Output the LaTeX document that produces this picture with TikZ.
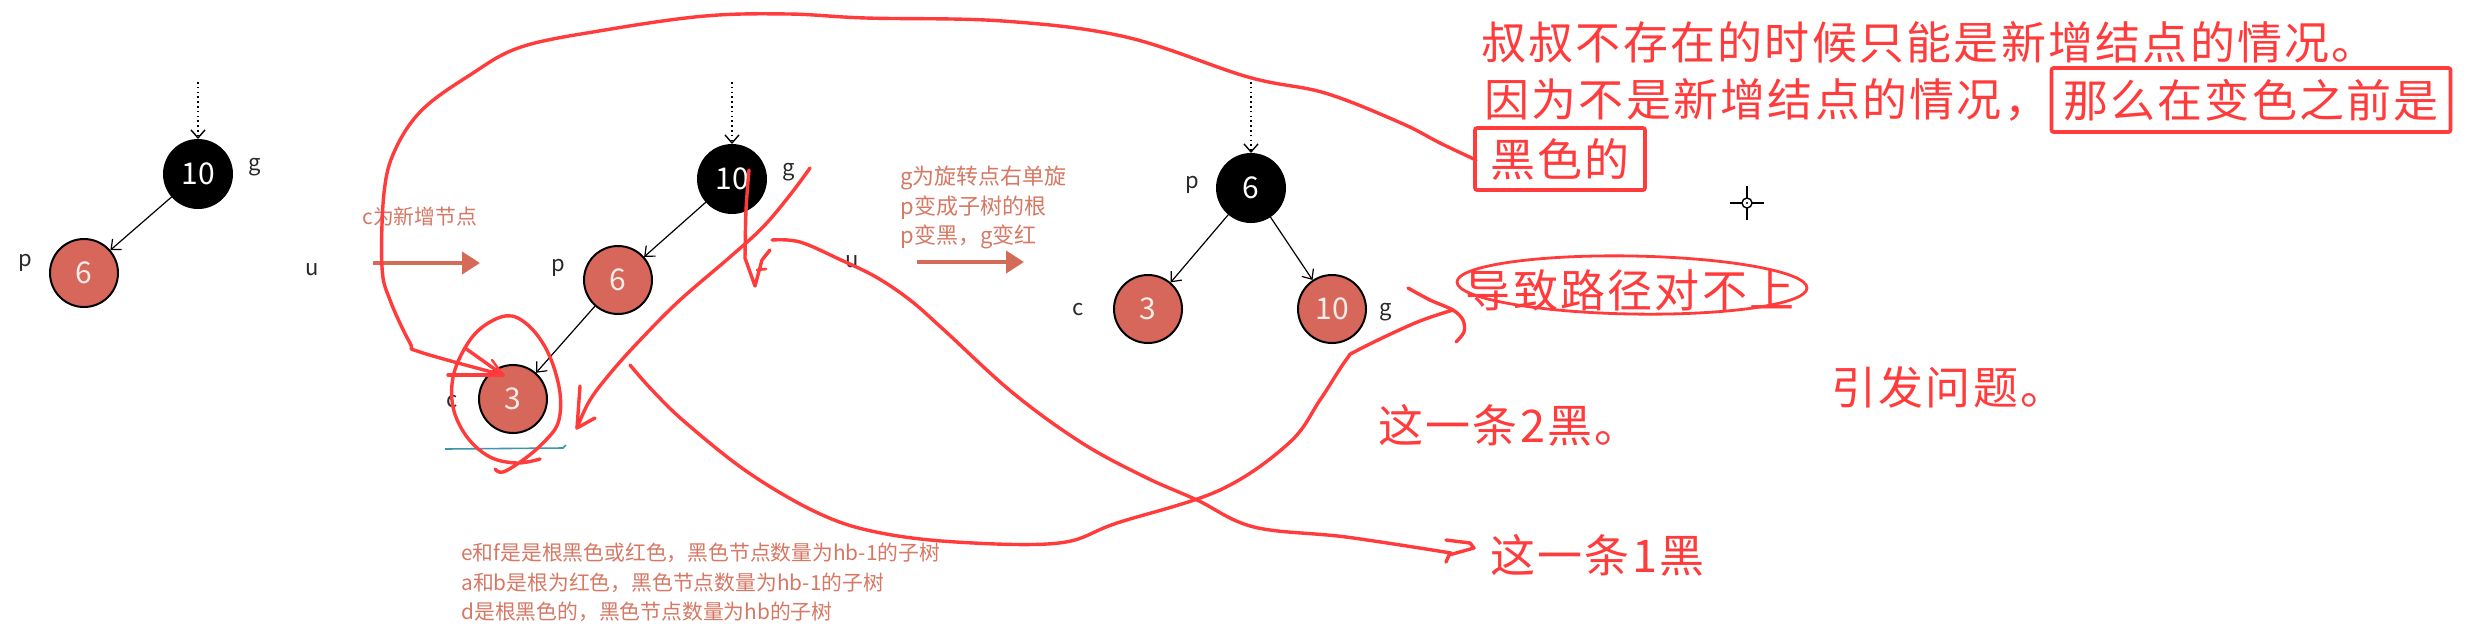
\documentclass[tikz,border=0pt]{standalone}
\usepackage{fontspec}
\setmainfont{Noto Sans CJK SC}
\newfontfamily\redfont[LetterSpace=5]{Noto Sans CJK SC}
\usetikzlibrary{arrows.meta}
\definecolor{handred}{RGB}{255,59,59}
\definecolor{salmon}{RGB}{214,120,100}
\definecolor{nodered}{RGB}{214,103,90}
\definecolor{salarrow}{RGB}{212,106,88}
\definecolor{teal1}{RGB}{62,149,174}
\definecolor{lbl}{RGB}{40,40,40}
\definecolor{nodetxt}{RGB}{250,236,230}
\begin{document}
\begin{tikzpicture}[x=0.5pt,y=-0.5pt,
 blk/.style={circle, fill=black, draw=black, line width=1pt, minimum size=34pt, inner sep=0pt, text=white, font=\fontsize{15}{15}\selectfont},
 rd/.style={circle, fill=nodered, draw=black, line width=1pt, minimum size=34pt, inner sep=0pt, text=nodetxt, font=\fontsize{15}{15}\selectfont},
 lab/.style={text=lbl, font=\fontsize{11}{11}\selectfont, inner sep=0pt},
 treeedge/.style={line width=0.6pt, -{Straight Barb[length=4pt,width=7pt]}},
 dotarr/.style={line width=0.7pt, dash pattern=on 0.8pt off 1.6pt, -{Straight Barb[length=4pt,width=7pt]}},
 salarr/.style={salarrow, line width=2pt, -{Triangle[length=9pt,width=11pt]}},
 saltxt/.style={text=salmon, font=\fontsize{11}{11}\selectfont, inner sep=0pt, anchor=west},
 handline/.style={handred, line width=1.7pt, line cap=round, line join=round},
 redtxt/.style={text=handred, font=\redfont\fontsize{22.5}{22.5}\selectfont, inner sep=0pt},
]
\fill[white] (0,0) rectangle (2468,639);
\useasboundingbox (0,0) rectangle (2468,639);

% ---------- tree 1 ----------
\node[blk] (g1) at (198,174) {10};
\node[rd] (p1) at (84,273) {6};
\coordinate (t1) at (198,82);
\draw[dotarr] (t1) -- (g1);
\draw[treeedge] (g1) -- (p1);
\node[lab] (lg1) at (255,167) {g};
\node[lab] (lp1) at (25,263) {p};
\node[lab] (lu1) at (312,270) {u};

% arrow 1
\node[saltxt, font=\fontsize{10.4}{10.4}\selectfont] (txtc) at (362,217) {c为新增节点};
\coordinate (a1s) at (373,263);
\coordinate (a1e) at (480,263);
\draw[salarr] (a1s) -- (a1e);

% ---------- tree 2 ----------
\node[blk] (g2) at (732,179) {10};
\node[rd] (p2) at (618,280) {6};
\node[rd] (c2) at (513,399) {3};
\coordinate (t2) at (732,82);
\draw[dotarr] (t2) -- (g2);
\draw[treeedge] (g2) -- (p2);
\draw[treeedge] (p2) -- (c2);
\node[lab] (lg2) at (789,172) {g};
\node[lab] (lp2) at (558,268) {p};
\node[lab] (lc2) at (452,402) {c};
\node[lab] (lu2) at (852,262) {u};
\coordinate (bl1) at (445,449);
\coordinate (bl2) at (563,448);
\draw[teal1, line width=0.8pt] (bl1) -- (bl2) -- ++(3,-3);

% arrow 2
\node[saltxt] (rot1) at (900,178) {g为旋转点右单旋};
\node[saltxt] (rot2) at (900,208) {p变成子树的根};
\node[saltxt] (rot3) at (900,237) {p变黑，g变红};
\coordinate (a2s) at (917,262);
\coordinate (a2e) at (1024,262);
\draw[salarr] (a2s) -- (a2e);

% ---------- tree 3 ----------
\node[blk] (p3) at (1251,188) {6};
\node[rd] (c3) at (1148,309) {3};
\node[rd] (g3) at (1332,309) {10};
\coordinate (t3) at (1251,82);
\draw[dotarr] (t3) -- (p3);
\draw[treeedge] (p3) -- (c3);
\draw[treeedge] (p3) -- (g3);
\node[lab] (lp3) at (1192,185) {p};
\node[lab] (lc3) at (1078,310) {c};
\node[lab] (lg3) at (1386,312) {g};

% ---------- bottom notes ----------
\node[saltxt, font=\fontsize{10.4}{10.4}\selectfont] (n1) at (461,553) {e和f是是根黑色或红色，黑色节点数量为hb-1的子树};
\node[saltxt, font=\fontsize{10.4}{10.4}\selectfont] (n2) at (461,583) {a和b是根为红色，黑色节点数量为hb-1的子树};
\node[saltxt, font=\fontsize{10.4}{10.4}\selectfont] (n3) at (461,612) {d是根黑色的，黑色节点数量为hb的子树};

% ---------- red annotations: text ----------
\node[redtxt, anchor=west] (r1) at (1481,42) {叔叔不存在的时候只能是新增结点的情况。};
\node[redtxt, anchor=west] (r2) at (1484,100) {因为不是新增结点的情况，};
\node[redtxt, draw=handred, line width=1.8pt, minimum width=199.5pt, minimum height=32pt, rounded corners=1pt] (r2b) at (2251,100) {那么在变色之前是};
\node[redtxt, draw=handred, line width=1.8pt, minimum width=85pt, minimum height=31pt, rounded corners=1pt] (r3) at (1560,159) {黑色的};
\node[redtxt] (dz) at (1630,290) {导致路径对不上};
\draw[handline, line width=1.4pt, rotate around={-1:(1632,285)}] (1632,285) ellipse [x radius=175, y radius=29];
\node[redtxt, anchor=west] (yf) at (1831,387) {引发问题。};
\node[redtxt, anchor=west] (z2) at (1378,425) {这一条2黑。};
\node[redtxt, anchor=west] (z1) at (1490,555) {这一条1黑};

% crosshair
\coordinate (ch) at (1747,203);
\draw[line width=0.9pt] (1730,203) -- (1742,203) (1752,203) -- (1764,203)
  (1747,186) -- (1747,198) (1747,208) -- (1747,220);
\draw[line width=0.7pt] (ch) circle[radius=5];
\fill (ch) circle[radius=1.2];

% ---------- red annotations: strokes ----------
% A: big loop from box to node 3
\coordinate (Aend) at (503,375);
\draw[handline] plot[smooth, tension=0.6] coordinates {(1476,160) (1440,143) (1401,123) (1325,93) (1248,77) (1126,37) (1003,21) (866,18) (789,14) (705,16) (605,30) (521,47) (470,75) (422,110) (395,150) (384,193) (382,267) (390,300) (410,343) (420,352) (Aend)};
\draw[handline] (448,375) -- (Aend);
\draw[handline] (465,348) -- (Aend);
\draw[handline, line width=1.2pt] (492,360) -- (Aend);

% B: circle round node 3
\draw[handline] plot[smooth, tension=0.6] coordinates {(540,459) (517,463) (490,457) (467,437) (453,407) (454,373) (470,340) (490,322) (512,316) (533,330) (550,357) (560,393) (558,423) (543,443) (523,460) (503,472) (495,469)};

% C: short arrow down through node 10
\coordinate (Ctip) at (755,286);
\draw[handline] plot[smooth, tension=0.5] coordinates {(749,170) (746,210) (745,258)} -- (Ctip) -- (762,260) -- (770,250);
\draw[handline, line width=1.3pt] (757,270) -- (766,269);

% D: long line down-left with arrow
\coordinate (Dtip) at (577,428);
\draw[handline] plot[smooth, tension=0.6] coordinates {(810,168) (790,195) (763,227) (730,257) (680,300) (643,337) (613,370) (590,400) (Dtip)};
\draw[handline] (580,386) -- (Dtip) -- (595,418);

% E: curve to "这一条1黑"
\coordinate (Etip) at (1451,553);
\draw[handline] plot[smooth, tension=0.6] coordinates {(772,240) (800,242) (841,260) (876,277) (910,300) (944,330) (1013,393) (1082,443) (1145,477) (1197,500) (1254,527) (1346,537) (Etip)};
\draw[handline] (1446,540) -- (1470,543) -- (1474,548) -- (1449,555) -- (1446,562);

% F: curve to "导致路径对不上"
\coordinate (Ftip) at (1453,310);
\draw[handline] plot[smooth, tension=0.6] coordinates {(630,365) (652,390) (686,423) (749,473) (818,513) (876,532) (956,542) (1059,543) (1117,523) (1220,490) (1289,443) (1320,400) (1346,360) (1358,350) (1415,323) (Ftip)};
\draw[handline] plot[smooth, tension=0.5] coordinates {(1408,288) (1430,300) (Ftip) (1463,320) (1464,332) (1456,342)};

\end{tikzpicture}
\end{document}
